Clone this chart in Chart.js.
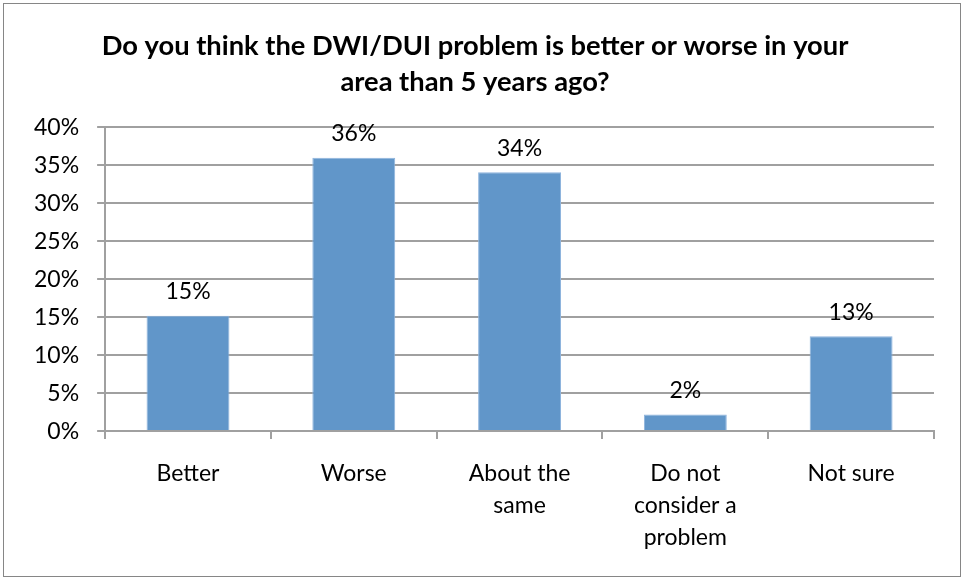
<!DOCTYPE html>
<html><head><meta charset="utf-8">
<script src="https://cdn.jsdelivr.net/npm/chart.js@4"></script>
<style>
html,body{margin:0;padding:0;background:#fff;}
#wrap{position:absolute;left:3px;top:3px;width:958px;height:574px;border:1px solid #868686;box-sizing:border-box;}
canvas{display:block;}
</style></head><body>
<div id="wrap"><canvas id="c"></canvas></div>
<script>
const categories = [["Better"],["Worse"],["About the","same"],["Do not","consider a","problem"],["Not sure"]];
const values = [15.2, 36.0, 34.1, 2.2, 12.5];
const valueLabels = ["15%","36%","34%","2%","13%"];
const titleLines = ["Do you think the DWI/DUI problem is better or worse in your","area than 5 years ago?"];

const FONT = "Lato, 'Open Sans', sans-serif";
const labelPlugin = {
  id:'valueLabels',
  afterDatasetsDraw(chart){
    const ctx = chart.ctx;
    const meta = chart.getDatasetMeta(0);
    ctx.save();
    ctx.font = "23px " + FONT;
    ctx.fillStyle = "#000";
    ctx.textAlign = "center";
    ctx.textBaseline = "middle";
    meta.data.forEach((bar,i)=>{
      ctx.fillText(valueLabels[i], bar.x, bar.y - 24);
    });
    ctx.restore();
  }
};

new Chart(document.getElementById('c'), {
  type:'bar',
  data:{labels:categories, datasets:[{data:values, backgroundColor:'#6196C9', borderColor:'#8EB4DD', borderWidth:{left:1,right:1,top:1,bottom:0}, barPercentage:0.5, categoryPercentage:1}]},
  options:{
    responsive:true, maintainAspectRatio:false, animation:false,
    layout:{padding:{left:12,right:26,top:0,bottom:3}},
    plugins:{
      legend:{display:false}, tooltip:{enabled:false},
      title:{display:true, text:titleLines, color:'#000', font:{family:FONT, size:27.3, weight:'bold', lineHeight:1.29}, padding:{top:25,bottom:28}}
    },
    scales:{
      y:{min:0,max:40,
        ticks:{stepSize:5, callback:v=>v+'%', color:'#000', font:{family:FONT,size:23}, padding:18},
        grid:{color:'#A0A0A0', lineWidth:2, tickLength:8, drawTicks:true},
        border:{color:'#A0A0A0', width:2}
      },
      x:{
        ticks:{color:'#000', font:{family:FONT,size:23, lineHeight:1.39}, padding:19, maxRotation:0, autoSkip:false},
        grid:{display:true, drawOnChartArea:false, color:'#A0A0A0', lineWidth:2, tickLength:8, offset:true},
        border:{color:'#A0A0A0', width:2}
      }
    }
  },
  plugins:[labelPlugin]
});
</script>
</body></html>
